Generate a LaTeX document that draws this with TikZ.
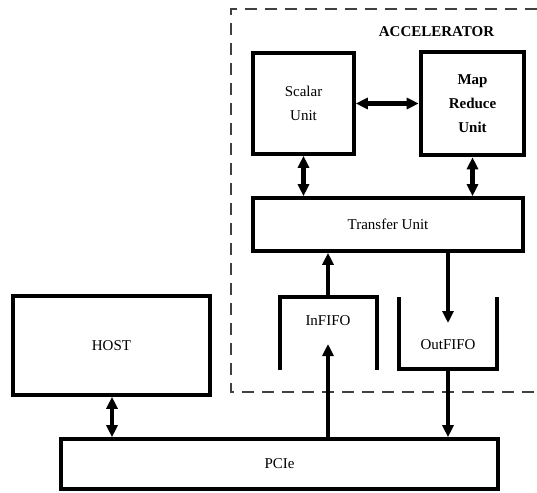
\documentclass[tikz,border=0pt]{standalone}
\usepackage{fontspec}
\setmainfont{Liberation Serif}
\usetikzlibrary{arrows.meta}
\begin{document}
\begin{tikzpicture}[x=1pt,y=-1pt,
  every node/.style={font=\fontsize{15}{24}\selectfont, align=center},
  blk/.style={draw, line width=3.6pt, rectangle, inner sep=0pt},
  thickblk/.style={draw, line width=4.6pt, rectangle, inner sep=0pt},
  cup/.style={line width=4pt},
  conn/.style={line width=4.4pt, -{Triangle[length=12pt,width=11pt]}},
  dconn/.style={line width=4.4pt, {Triangle[length=12pt,width=11pt]}-{Triangle[length=12pt,width=11pt]}},
  border/.style={draw=black!75, line width=1.2pt, dash pattern=on 12pt off 8pt}
]
\useasboundingbox (0,0) rectangle (537,492);
% accelerator border
\draw[border] (537,9) -- (231,9) -- (231,392) -- (537,392);
\node[font=\fontsize{15}{18}\selectfont\bfseries] (acc) at (436.5,32) {ACCELERATOR};

\node[blk, minimum width=101pt, minimum height=101pt] (scalar) at (303.5,103.5) {Scalar\\Unit};
\node[thickblk, minimum width=103pt, minimum height=103pt, font=\fontsize{15}{24}\selectfont\bfseries] (mr) at (472.5,103.5) {Map\\Reduce\\Unit};
\node[blk, minimum width=270pt, minimum height=53pt] (transfer) at (388,224.5) {Transfer Unit};
\node[blk, minimum width=197pt, minimum height=99pt] (host) at (111.5,345.5) {HOST};
\node[blk, minimum width=437pt, minimum height=50pt] (pcie) at (279.5,464) {PCIe};

% FIFOs
\draw[cup] (280,370) -- (280,297) -- (377,297) -- (377,370);
\node (infifo) at (328,321) {InFIFO};
\draw[cup] (399,297) -- (399,369) -- (497,369) -- (497,297);
\node (outfifo) at (448,345) {OutFIFO};

\coordinate (inTop) at (328,297);
\coordinate (inTip) at (328,344);
\coordinate (outTip) at (448,323);
\coordinate (outBot) at (448,369);

% connectors
\draw[dconn] (scalar.east) -- (mr.west);
\draw[dconn] (scalar.south) -- (scalar.south |- transfer.north);
\draw[dconn] (mr.south) -- (mr.south |- transfer.north);
\draw[conn] (inTop) -- (inTop |- transfer.south);
\draw[conn] (outTip |- transfer.south) -- (outTip);
\draw[conn] (pcie.north -| inTip) -- (inTip);
\draw[conn] (outBot) -- (outBot |- pcie.north);
\draw[dconn] (host.south -| 112,0) -- (pcie.north -| 112,0);
\end{tikzpicture}
\end{document}
